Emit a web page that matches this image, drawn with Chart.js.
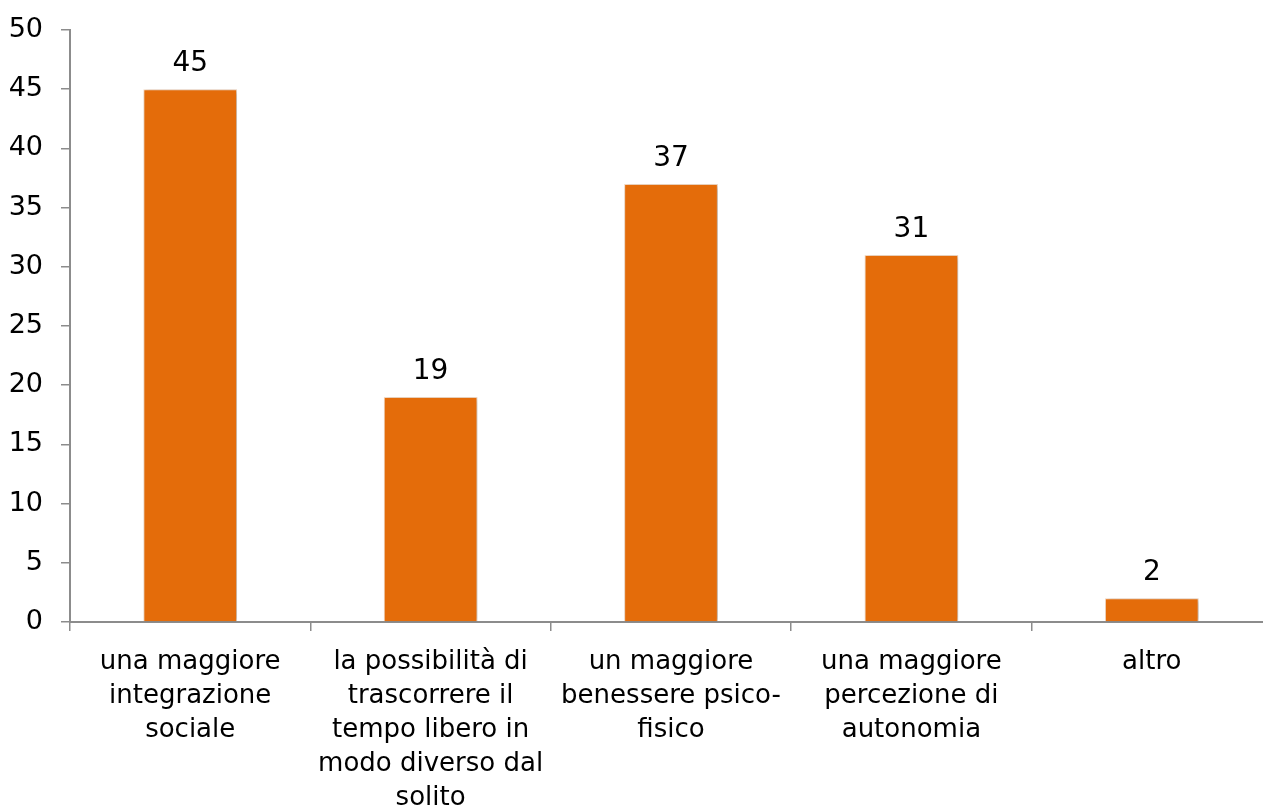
<!DOCTYPE html>
<html>
<head>
<meta charset="utf-8">
<script src="https://cdn.jsdelivr.net/npm/chart.js@4/dist/chart.umd.min.js"></script>
<style>
  html, body { margin: 0; padding: 0; background: #fff; overflow: hidden; }
  #wrap { width: 1263px; height: 810px; overflow: hidden; }
</style>
</head>
<body>
<div id="wrap"><canvas id="chart" width="1272" height="810"></canvas></div>
<script>
// Categories (multi-line labels) and values
const categories = [
    ['una maggiore', 'integrazione', 'sociale'],
    ['la possibilità di', 'trascorrere il', 'tempo libero in', 'modo diverso dal', 'solito'],
    ['un maggiore', 'benessere psico-', 'fisico'],
    ['una maggiore', 'percezione di', 'autonomia'],
    ['altro']
];
const values = [45, 19, 37, 31, 2];
const yTicks = [0, 5, 10, 15, 20, 25, 30, 35, 40, 45, 50];

const FONT = 'DejaVu Sans';
const axisColor = '#8c8c8c';

// soft shadow behind the bars
const barShadow = {
    id: 'barShadow',
    beforeDatasetsDraw(chart) {
        const ctx = chart.ctx;
        ctx.save();
        ctx.shadowColor = 'rgba(0, 0, 0, 0.28)';
        ctx.shadowBlur = 5;
        ctx.shadowOffsetX = 2;
        ctx.shadowOffsetY = 1;
    },
    afterDatasetsDraw(chart) {
        chart.ctx.restore();
    }
};

// value labels above bars
const valueLabels = {
    id: 'valueLabels',
    afterDatasetsDraw(chart) {
        const ctx = chart.ctx;
        const meta = chart.getDatasetMeta(0);
        ctx.save();
        ctx.font = '28px "' + FONT + '"';
        ctx.fillStyle = '#000';
        ctx.textAlign = 'center';
        ctx.textBaseline = 'alphabetic';
        meta.data.forEach((bar, i) => {
            ctx.fillText(String(values[i]), bar.x, bar.y - 18);
        });
        ctx.restore();
    }
};

new Chart(document.getElementById('chart').getContext('2d'), {
    type: 'bar',
    data: {
        labels: categories,
        datasets: [{
            data: values,
            backgroundColor: '#E46C0A',
            borderColor: '#f6dcc6',
            borderWidth: { top: 1, left: 1, right: 1, bottom: 0 },
            barPercentage: 0.39,
            categoryPercentage: 1.0
        }]
    },
    options: {
        responsive: false,
        animation: false,
        layout: { padding: { top: 30, right: 0, left: 0, bottom: 0 } },
        plugins: {
            legend: { display: false },
            tooltip: { enabled: false }
        },
        scales: {
            x: {
                offset: true,
                grid: {
                    offset: true,
                    drawOnChartArea: false,
                    drawTicks: true,
                    tickLength: 9,
                    color: axisColor,
                    lineWidth: 1.5
                },
                border: { color: axisColor, width: 2 },
                ticks: {
                    color: '#000',
                    font: { family: FONT, size: 26, lineHeight: '34px' },
                    padding: 14,
                    maxRotation: 0,
                    autoSkip: false
                },
                afterFit(scale) { scale.height = 188; }
            },
            y: {
                min: 0,
                max: 50,
                afterBuildTicks(scale) {
                    scale.ticks = yTicks.map(v => ({ value: v }));
                },
                grid: {
                    drawOnChartArea: false,
                    drawTicks: true,
                    tickLength: 9,
                    color: axisColor,
                    lineWidth: 1.5
                },
                border: { color: axisColor, width: 2 },
                ticks: {
                    color: '#000',
                    font: { family: FONT, size: 27 },
                    padding: 18
                },
                afterFit(scale) {
                    scale.width = 70;
                    scale.paddingTop = 0;
                    scale.paddingBottom = 0;
                }
            }
        }
    },
    plugins: [barShadow, valueLabels]
});
</script>
</body>
</html>
